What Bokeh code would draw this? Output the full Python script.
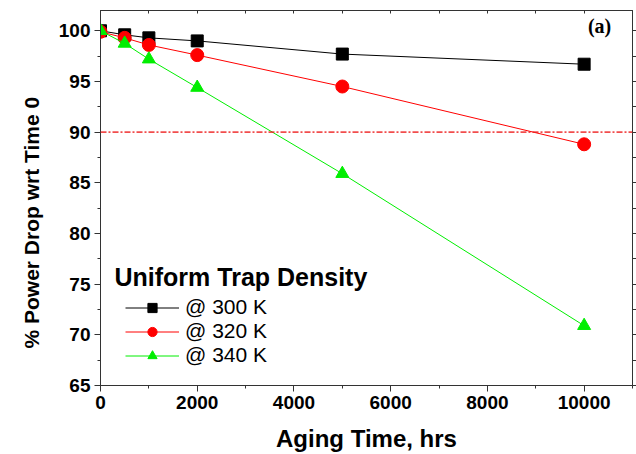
from bokeh.plotting import figure
from bokeh.models import (Range1d, LinearAxis, SingleIntervalTicker, FixedTicker, Span, Label,
                          Legend, LegendItem, Title)
from bokeh.embed import file_html
from bokeh.resources import INLINE

# ---- data ----
aging_hours = [0, 500, 1000, 2000, 5000, 10000]
drop_300K = [100.0, 99.6, 99.3, 99.0, 97.7, 96.7]
drop_320K = [99.9, 99.3, 98.6, 97.6, 94.5, 88.8]
drop_340K = [100.0, 98.75, 97.2, 94.4, 85.9, 70.9]
series_labels = ["@ 300 K", "@ 320 K", "@ 340 K"]
threshold = 90
x_ticks_interval = 2000
y_ticks_interval = 5
top_minor_ticks = [0, 1000, 2000, 3000, 4000, 5000, 6000, 7000, 8000, 9000, 10000, 11000]
right_minor_ticks = [65, 67.5, 70, 72.5, 75, 77.5, 80, 82.5, 85, 87.5, 90, 92.5, 95, 97.5, 100]

FONT = "Liberation Sans"

p = figure(width=636, height=454, output_backend="svg", toolbar_location=None,
           x_range=Range1d(0, 11000), y_range=Range1d(65, 102),
           min_border_left=100, min_border_right=3, min_border_top=10, min_border_bottom=67,
           x_axis_label="Aging Time, hrs")
p.grid.visible = False
p.outline_line_color = "#333333"
p.background_fill_color = "white"
p.border_fill_color = "white"

xa = p.xaxis[0]
xa.ticker = SingleIntervalTicker(interval=x_ticks_interval, num_minor_ticks=2)
ya = p.yaxis[0]
ya.ticker = SingleIntervalTicker(interval=y_ticks_interval, num_minor_ticks=2)

for ax in (xa, ya):
    ax.axis_line_color = "#333333"
    ax.major_tick_line_color = "#333333"
    ax.minor_tick_line_color = "#333333"
    ax.major_tick_in = 0
    ax.major_tick_out = 6
    ax.minor_tick_in = 0
    ax.minor_tick_out = 3
    ax.major_label_text_font = FONT
    ax.major_label_text_font_style = "bold"
    ax.major_label_text_font_size = "19px"
    ax.major_label_text_color = "black"
    ax.axis_label_text_font = FONT
    ax.axis_label_text_font_style = "bold"
    ax.axis_label_text_font_size = "24px"
    ax.axis_label_text_color = "black"
xa.major_label_standoff = 4
xa.axis_label_standoff = 13
ya.major_label_standoff = 4

top = LinearAxis(ticker=FixedTicker(ticks=[], minor_ticks=top_minor_ticks),
                 major_label_standoff=0, major_tick_in=0, major_tick_out=0,
                 minor_tick_in=3, minor_tick_out=0,
                 axis_line_color="#333333", minor_tick_line_color="#333333")
p.add_layout(top, "above")
right = LinearAxis(ticker=FixedTicker(ticks=[], minor_ticks=right_minor_ticks),
                   major_label_standoff=0, major_tick_in=0, major_tick_out=0,
                   minor_tick_in=0, minor_tick_out=4,
                   axis_line_color="#333333", minor_tick_line_color="#333333")
p.add_layout(right, "right")

p.add_layout(Title(text="% Power Drop wrt Time 0", align="left", offset=37, standoff=22,
                   vertical_align="top",
                   text_font=FONT, text_font_style="bold", text_font_size="21px",
                   text_color="black"), "left")

p.add_layout(Span(location=threshold, dimension="width", line_color="#ee2020",
                  line_width=1.6, line_dash="6 2 2 2", line_alpha=0.8))

colors = ["black", "#ff0000", "#00ee00"]
markers = ["square", "circle", "triangle"]
sizes = [12, 13, 13]
items = []
for ys, c, m, s, lab in zip([drop_300K, drop_320K, drop_340K], colors, markers, sizes, series_labels):
    l = p.line(aging_hours, ys, line_color=c, line_width=1)
    sc = p.scatter(aging_hours, ys, marker=m, size=s, fill_color=c, line_color=c)
    items.append(LegendItem(label=lab, renderers=[l, sc]))

legend = Legend(items=items, location=(25, 18), orientation="vertical",
                glyph_width=54, glyph_height=23, label_height=23, spacing=0,
                label_standoff=6, padding=0, margin=0,
                label_text_font=FONT, label_text_font_size="21px",
                label_text_color="black",
                border_line_color=None, background_fill_alpha=0)
p.add_layout(legend, "center")

p.add_layout(Label(x=14, y=109, x_units="screen", y_units="screen",
                   text="Uniform Trap Density", text_font=FONT, text_font_style="bold",
                   text_font_size="25px", text_baseline="middle", text_align="left",
                   text_color="black"))

p.add_layout(Label(x=10320, y=100.45, text="(a)", text_font="Liberation Serif",
                   text_font_style="bold", text_font_size="20px", text_baseline="middle",
                   text_align="center", text_color="black"))

open("out.html", "w").write(file_html(p, INLINE))
